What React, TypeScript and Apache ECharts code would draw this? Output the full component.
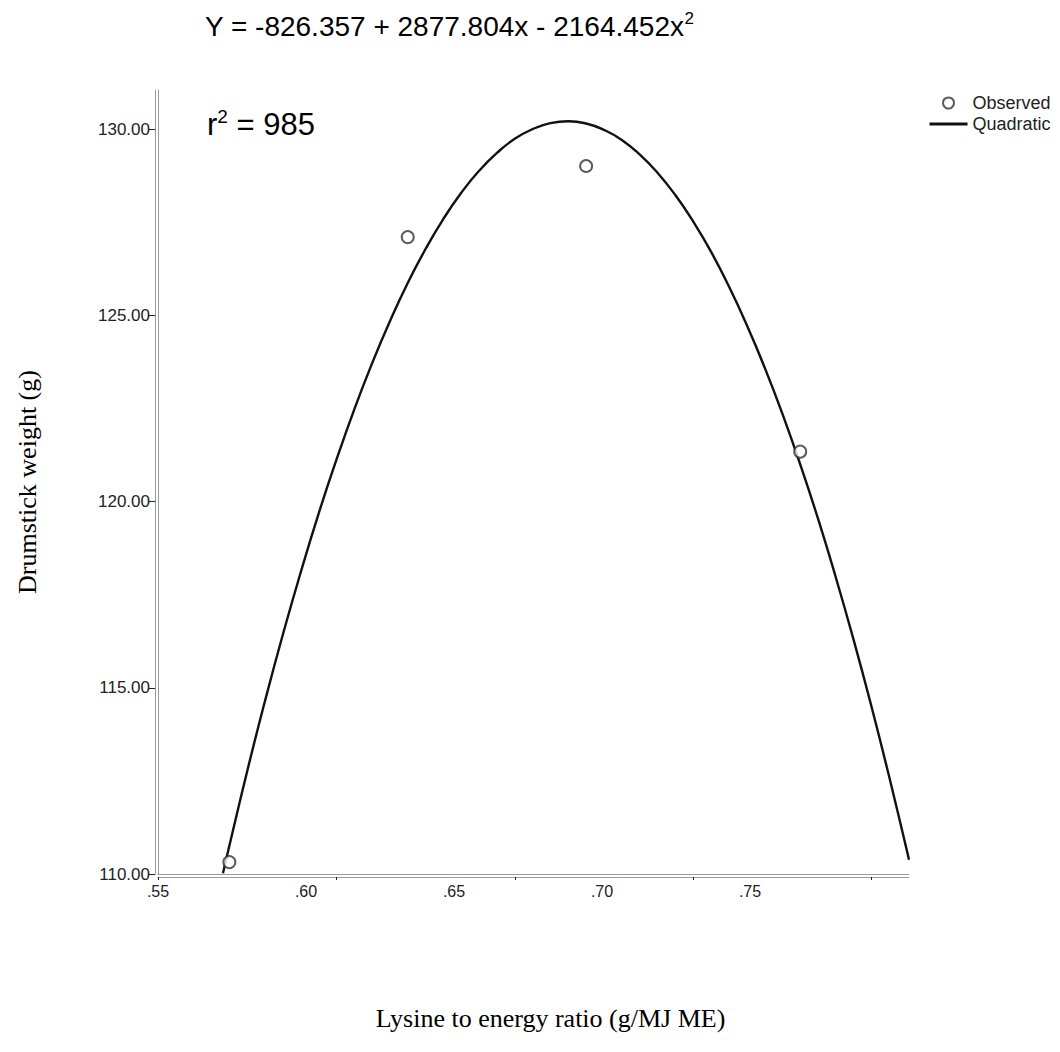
import React, { useEffect, useRef } from "react";
import * as echarts from "echarts";

const xObserved = [0.57, 0.62, 0.67, 0.73];
const yObserved = [110.32, 127.1, 129.01, 121.34];

const xQuadratic = [0.5682, 0.57, 0.575, 0.58, 0.585, 0.59, 0.595, 0.6, 0.605, 0.61, 0.615, 0.62, 0.625, 0.63, 0.635, 0.64, 0.645, 0.65, 0.655, 0.66, 0.665, 0.67, 0.675, 0.68, 0.685, 0.69, 0.695, 0.7, 0.705, 0.71, 0.715, 0.72, 0.725, 0.73, 0.735, 0.74, 0.745, 0.75, 0.755, 0.76, 0.7605];
const yQuadratic = [110.02, 110.76, 112.76, 114.65, 116.43, 118.1, 119.67, 121.12, 122.47, 123.71, 124.84, 125.87, 126.78, 127.59, 128.29, 128.88, 129.36, 129.74, 130.0, 130.16, 130.21, 130.15, 129.98, 129.71, 129.32, 128.83, 128.23, 127.52, 126.71, 125.78, 124.75, 123.61, 122.36, 121.0, 119.54, 117.96, 116.28, 114.49, 112.59, 110.59, 110.38];

const xTickValues = [0.55, 0.6, 0.65, 0.7, 0.75];
const yTickValues = [110, 115, 120, 125, 130];

const titleText = "Y = -826.357 + 2877.804x - 2164.452x";
const r2Text = "985";
const xName = "Lysine to energy ratio (g/MJ ME)";
const yName = "Drumstick weight (g)";

const SANS = "'Liberation Sans', Arial, sans-serif";
const SERIF = "'Liberation Serif', 'Times New Roman', serif";
const AXIS_GRAY = "#9a9a9a";

export default function App() {
  const ref = useRef<HTMLDivElement>(null);
  useEffect(() => {
    if (!ref.current) return;
    const chart = echarts.init(ref.current, null, { renderer: "svg" });
    const xMin = 0.55, xMax = 0.7605, yMin = 110, yMax = 131.05;
    // the printed tick labels of the reference sit on a compressed spacing
    const xLabelMax = 0.8037;
    chart.setOption({
      animation: false,
      backgroundColor: "#ffffff",
      grid: { left: 158, right: 151, top: 90, bottom: 178 },
      legend: {
        orient: "vertical",
        left: 928,
        top: 94,
        padding: 0,
        itemWidth: 38,
        itemHeight: 11,
        itemGap: 3,
        textStyle: { fontFamily: SANS, fontSize: 18, color: "#222" },
        data: [
          { name: "Observed" },
          { name: "Quadratic", itemStyle: { opacity: 0 }, lineStyle: { width: 3, color: "#111" } },
        ],
      },
      xAxis: [
        {
          type: "value", min: xMin, max: xMax, interval: 0.05, position: "bottom", offset: 0,
          axisLine: { show: true, onZero: false, lineStyle: { color: AXIS_GRAY, width: 1 } },
          axisTick: { show: false }, axisLabel: { show: false }, splitLine: { show: false },
        },
        {
          type: "value", min: xMin, max: xMax, interval: 0.05, position: "bottom", offset: 3,
          axisLine: { show: true, onZero: false, lineStyle: { color: AXIS_GRAY, width: 1 } },
          axisTick: { show: true, length: 3, customValues: xTickValues, lineStyle: { color: "#222" } },
          axisLabel: { show: false },
          splitLine: { show: false },
          name: xName, nameLocation: "middle", nameGap: 128,
          nameTextStyle: { fontFamily: SERIF, fontSize: 26, color: "#000", padding: [0, 0, 0, 34] },
        },
        {
          type: "value", min: xMin, max: xLabelMax, interval: 0.05, position: "bottom", offset: 3,
          axisLine: { show: false }, axisTick: { show: false }, splitLine: { show: false },
          axisLabel: {
            show: true, margin: 6, fontFamily: SANS, fontSize: 16, color: "#222",
            customValues: xTickValues,
            formatter: (v: number) => v.toFixed(2).replace(/^0/, ""),
          },
        },
      ],
      yAxis: [
        {
          type: "value", min: yMin, max: yMax, interval: 5, position: "left", offset: 0,
          axisLine: { show: true, onZero: false, lineStyle: { color: AXIS_GRAY, width: 1 } },
          axisTick: { show: false }, axisLabel: { show: false }, splitLine: { show: false },
        },
        {
          type: "value", min: yMin, max: yMax, interval: 5, position: "left", offset: 3,
          axisLine: { show: true, onZero: false, lineStyle: { color: AXIS_GRAY, width: 1 } },
          axisTick: { show: true, length: 7, customValues: yTickValues, lineStyle: { color: "#222" } },
          axisLabel: {
            show: true, margin: 5, fontFamily: SANS, fontSize: 17, color: "#222",
            customValues: yTickValues,
            formatter: (v: number) => v.toFixed(2),
          },
          splitLine: { show: false },
          name: yName, nameLocation: "middle", nameGap: 115, nameRotate: 90,
          nameTextStyle: { fontFamily: SERIF, fontSize: 26, color: "#000" },
        },
      ],
      graphic: [
        {
          type: "text", left: 205, top: 10, silent: true,
          style: {
            text: "{m|" + titleText + "}{s|2}",
            rich: {
              m: { fontFamily: SANS, fontSize: 28, color: "#000", lineHeight: 32 },
              s: { fontFamily: SANS, fontSize: 17, color: "#000", verticalAlign: "top", lineHeight: 32 },
            },
          },
        },
        {
          type: "text", left: 207, top: 107, silent: true,
          style: {
            text: "{m|r}{s|2}{m| = " + r2Text + "}",
            rich: {
              m: { fontFamily: SANS, fontSize: 31, color: "#000", lineHeight: 35 },
              s: { fontFamily: SANS, fontSize: 19, color: "#000", verticalAlign: "top", lineHeight: 35 },
            },
          },
        },
      ],
      series: [
        {
          name: "Quadratic", type: "line", xAxisIndex: 0, yAxisIndex: 0,
          data: xQuadratic.map((x, i) => [x, yQuadratic[i]]),
          smooth: true, showSymbol: false, symbol: "none",
          lineStyle: { color: "#111", width: 2.4 }, itemStyle: { color: "#111" },
          clip: true, z: 2,
        },
        {
          name: "Observed", type: "scatter", xAxisIndex: 0, yAxisIndex: 0,
          data: xObserved.map((x, i) => [x, yObserved[i]]),
          symbol: "emptyCircle", symbolSize: 12,
          itemStyle: { color: "#333", borderColor: "#333", borderWidth: 1.8 },
          z: 3,
        },
      ],
    });
    return () => chart.dispose();
  }, []);
  return (
    <div
      ref={ref}
      style={{ position: "fixed", left: 0, top: 0, width: 1060, height: 1052, background: "#fff" }}
    />
  );
}
